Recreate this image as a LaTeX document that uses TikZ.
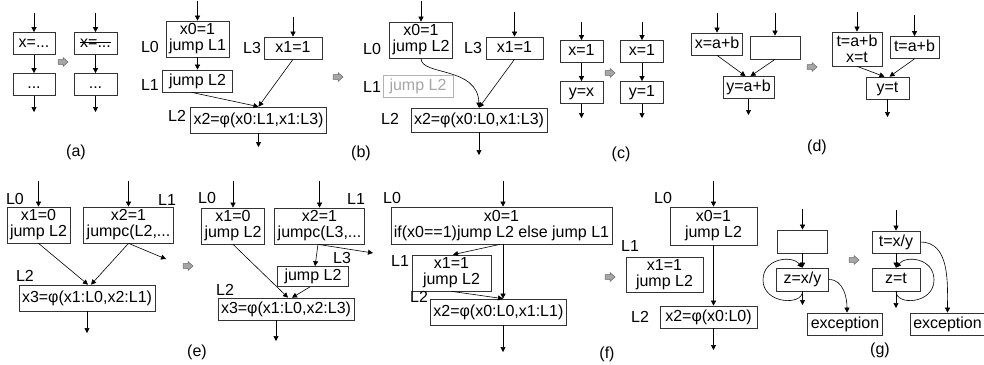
\documentclass[tikz,border=0pt]{standalone}
\usepackage{fontspec}
\setmainfont{Liberation Sans}
\usetikzlibrary{arrows.meta}
\newcommand\mysize{\fontsize{16pt}{16pt}\selectfont}
\newcommand\mystrike[1]{\setbox0\hbox{#1}\rlap{\rule[4.5pt]{\wd0}{0.7pt}}\box0}
\tikzset{
  box/.style={draw=black!80, line width=0.7pt, inner xsep=3pt, inner ysep=0pt, minimum height=22pt, text height=11.5pt, text depth=3.5pt},
  box2/.style={draw=black!80, line width=0.7pt, inner xsep=3pt, inner ysep=0pt, minimum height=36pt, align=center},
  lbl/.style={inner sep=0pt},
  conn/.style={line width=0.6pt, -{Triangle[length=5pt,width=5pt]}},
  pics/blockarrow/.style={code={
    \draw[line width=0.5pt, draw=black!60, fill=black!35] (0,-2.3) -- (5,-2.3) -- (5,-4.5) -- (10,0) -- (5,4.5) -- (5,2.3) -- (0,2.3) -- cycle;}}
}
\begin{document}
\begin{tikzpicture}[x=1pt,y=-1pt,font=\mysize]
\useasboundingbox (0,0) rectangle (984,364);

% ---------- (a)
\node[box, minimum width=42pt] (a1) at (34,43.5) {x=...};
\node[box, minimum width=42pt] (a2) at (34,84.5) {...};
\node[box, minimum width=43pt] (a3) at (95.5,43.5) {\mystrike{x=...}};
\node[box, minimum width=43pt] (a4) at (95.5,84.5) {...};
\coordinate (a1in) at (34,13);
\coordinate (a2out) at (34,112);
\coordinate (a3in) at (95.5,13);
\coordinate (a4out) at (95.5,112);
\draw[conn] (a1in) -- (a1);
\draw[conn] (a1) -- (a2);
\draw[conn] (a2) -- (a2out);
\draw[conn] (a3in) -- (a3);
\draw[conn] (a3) -- (a4);
\draw[conn] (a4) -- (a4out);
\pic at (58,62) {blockarrow};
\node[lbl] (la) at (76,152) {(a)};

% ---------- (b) left
\node[box2] (b1) at (197.5,39) {x0=1\\jump L1};
\node[box, minimum width=70pt] (b2) at (197.5,81) {jump L2};
\node[box, minimum width=58pt] (b3) at (293,48) {x1=1};
\node[box, minimum height=26pt] (b4) at (258.5,120) {x2=φ(x0:L1,x1:L3)};
\node[lbl] (bL0) at (150,47) {L0};
\node[lbl] (bL1) at (150,85) {L1};
\node[lbl] (bL3) at (252,48) {L3};
\node[lbl] (bL2) at (177,116) {L2};
\coordinate (b1in) at (197.5,1);
\coordinate (b3in) at (293,17);
\coordinate (b4out) at (258.5,147);
\draw[conn] (b1in) -- (b1);
\draw[conn] (b1) -- (b2);
\draw[conn] (b3in) -- (b3);
\draw[conn] ([xshift=-6pt]b2.south) -- (b4.north);
\draw[conn] (b3.south) -- (b4.north);
\draw[conn] (b4) -- (b4out);
\pic at (333,77) {blockarrow};
\node[lbl] (lb) at (361,153) {(b)};

% ---------- (b) right
\node[box2] (c1) at (421,40) {x0=1\\jump L2};
\node[box, draw=black!30, text=black!35, minimum width=70pt] (c2) at (418,86) {jump L2};
\node[box, minimum width=57pt] (c3) at (514.5,48) {x1=1};
\node[box, minimum height=24pt] (c4) at (479,120) {x2=φ(x0:L0,x1:L3)};
\node[lbl] (cL0) at (372,49) {L0};
\node[lbl] (cL1) at (372,87) {L1};
\node[lbl] (cL3) at (473,48) {L3};
\node[lbl] (cL2) at (390,119) {L2};
\coordinate (c1in) at (421,1);
\coordinate (c3in) at (514.5,12);
\coordinate (c4out) at (479,155);
\draw[conn] (c1in) -- (c1);
\draw[conn] (c3in) -- (c3);
\draw[conn] (c1.south) .. controls (421,76) and (478,66) .. (c4.north);
\draw[conn] (c3.south) -- (c4.north);
\draw[conn] (c4) -- (c4out);

% ---------- (c)
\node[box, minimum width=43pt] (d1) at (581.5,51.5) {x=1};
\node[box, minimum width=43pt] (d2) at (581.5,92.5) {y=x};
\node[box, minimum width=43pt] (d3) at (642,51.5) {x=1};
\node[box, minimum width=43pt] (d4) at (642,92.5) {y=1};
\coordinate (d1in) at (581.5,22);
\coordinate (d2out) at (581.5,118);
\coordinate (d3in) at (642,22);
\coordinate (d4out) at (642,118);
\draw[conn] (d1in) -- (d1);
\draw[conn] (d1) -- (d2);
\draw[conn] (d2) -- (d2out);
\draw[conn] (d3in) -- (d3);
\draw[conn] (d3) -- (d4);
\draw[conn] (d4) -- (d4out);
\pic at (605,73) {blockarrow};
\node[lbl] (lc) at (621,154) {(c)};

% ---------- (d)
\node[box, minimum width=50pt] (e1) at (717,44) {x=a+b};
\node[box, minimum width=50pt, minimum height=23pt] (e2) at (775,47.5) {};
\node[box, minimum width=51pt] (e3) at (748.5,87.5) {y=a+b};
\coordinate (e1in) at (717,13);
\coordinate (e2in) at (775,13);
\coordinate (e3out) at (748.5,115);
\draw[conn] (e1in) -- (e1);
\draw[conn] (e2in) -- (e2);
\draw[conn] (e1.south) -- ([xshift=-3pt]e3.north);
\draw[conn] (e2.south) -- ([xshift=2pt]e3.north);
\draw[conn] (e3) -- (e3out);
\pic at (807,67) {blockarrow};
\node[lbl] (ld) at (817,147) {(d)};
\node[box2, minimum height=34pt, minimum width=50pt] (f1) at (857,49) {t=a+b\\x=t};
\node[box, minimum width=49pt] (f2) at (914.5,47.5) {t=a+b};
\node[box, minimum width=43pt] (f3) at (887.5,88) {y=t};
\coordinate (f1in) at (857,12);
\coordinate (f2in) at (914.5,15);
\coordinate (f3out) at (887.5,117);
\draw[conn] (f1in) -- (f1);
\draw[conn] (f2in) -- (f2);
\draw[conn] (f1.south) -- ([xshift=-3pt]f3.north);
\draw[conn] (f2.south) -- ([xshift=2pt]f3.north);
\draw[conn] (f3) -- (f3out);

% ---------- (e) left
\node[box2] (g1) at (38.5,225) {x1=0\\jump L2};
\node[box2] (g2) at (128.5,225) {x2=1\\jumpc(L2,...};
\node[box, minimum height=26pt] (g3) at (87,298) {x3=φ(x1:L0,x2:L1)};
\node[lbl] (gL0) at (15,199) {L0};
\node[lbl] (gL1) at (167,200) {L1};
\node[lbl] (gL2) at (25,276) {L2};
\coordinate (g1in) at (38.5,181);
\coordinate (g2in) at (128.5,181);
\coordinate (g2side) at (166,259);
\coordinate (g3out) at (87,333);
\draw[conn] (g1in) -- (g1);
\draw[conn] (g2in) -- (g2);
\draw[conn] (g1.south) -- ([xshift=1pt]g3.north);
\draw[conn] (g2.south) -- ([xshift=4pt]g3.north);
\draw[conn] (g2.south) -- (g2side);
\draw[conn] (g3) -- (g3out);
\pic at (183,266) {blockarrow};
\node[lbl] (le) at (197,352) {(e)};

% ---------- (e) right
\node[box2] (h1) at (233,226) {x1=0\\jump L2};
\node[box2] (h2) at (319.5,226) {x2=1\\jumpc(L3,...};
\node[box, minimum width=71pt, minimum height=20pt] (h3) at (313,276.5) {jump L2};
\node[box] (h4) at (286,309) {x3=φ(x1:L0,x2:L3)};
\node[lbl] (hL0) at (207,198) {L0};
\node[lbl] (hL1) at (356,199) {L1};
\node[lbl] (hL3) at (342,258) {L3};
\node[lbl] (hL2) at (225,290) {L2};
\coordinate (h1in) at (233,181);
\coordinate (h2in) at (319.5,181);
\coordinate (h2side) at (373,253);
\coordinate (h4out) at (276,341);
\draw[conn] (h1in) -- (h1);
\draw[conn] (h2in) -- (h2);
\draw[conn] (h1.south) -- ([xshift=2pt]h4.north);
\draw[conn] ([xshift=-1.5pt]h2.south) -- ([xshift=2pt]h3.north);
\draw[conn] ([xshift=-1.5pt]h2.south) -- (h2side);
\draw[conn] ([xshift=-3pt]h3.south) -- ([xshift=6pt]h4.north);
\draw[conn] (h4.south -| h4out) -- (h4out);

% ---------- (f)
\node[box2, minimum height=37pt] (i1) at (501.5,225.5) {x0=1\\if(x0==1)jump L2 else jump L1};
\node[box2, minimum width=79pt, minimum height=36pt] (i2) at (451.5,273) {x1=1\\jump L2};
\node[box, anchor=west, minimum height=26pt] (i3) at (430,312) {x2=φ(x0:L0,x1:L1)};
\node[lbl] (iL0) at (392,198) {L0};
\node[lbl] (iL1) at (400,261) {L1};
\node[lbl] (iL2) at (419,297) {L2};
\coordinate (i1in) at (503,181);
\coordinate (i1s) at ([xshift=1.5pt]i1.south);
\coordinate (i3t) at (i1s |- i3.north);
\coordinate (i3b) at (i1s |- i3.south);
\coordinate (i3out) at (503,352);
\draw[conn] (i1in) -- (i1in |- i1.north);
\draw[conn] ([xshift=-1.5pt]i1.south) -- ([xshift=1.5pt]i2.north);
\draw[conn] (i1s) -- (i3t);
\draw[conn] (i2.south) -- (i3t);
\draw[conn] (i3b) -- (i3out);
\pic at (605,277) {blockarrow};
\node[lbl] (lf) at (607,354) {(f)};

\node[box2, minimum width=87pt, minimum height=38pt] (j1) at (713.5,226) {x0=1\\jump L2};
\node[box2, minimum width=77pt, minimum height=35pt] (j2) at (664.5,274.5) {x1=1\\jump L2};
\node[box, minimum width=97pt] (j3) at (708.5,317) {x2=φ(x0:L0)};
\node[lbl] (jL0) at (663,198) {L0};
\node[lbl] (jL1) at (630,246) {L1};
\node[lbl] (jL2) at (640,317) {L2};
\coordinate (j1in) at (713.5,181);
\coordinate (j3out) at (713.5,350);
\draw[conn] (j1in) -- (j1);
\draw[conn] (j1.south) -- (j1.south |- j3.north);
\draw[conn] (j1.south |- j3.south) -- (j3out);

% ---------- (g)
\node[box, minimum width=50pt, minimum height=23pt] (k1) at (802.5,241.5) {};
\node[box, minimum width=52pt, minimum height=23pt] (k2) at (802.5,279.5) {z=x/y};
\node[box, minimum width=70pt] (k3) at (845,324) {exception};
\coordinate (k1in) at (802.5,209);
\coordinate (k2out) at (802.5,305);
\draw[conn] (k1in) -- (k1);
\draw[conn] (k1) -- (k2);
\draw[conn] (k2.south) .. controls (802.5,306) and (763,304) .. (763,280) .. controls (763,258) and (792,255) .. (k2.north);
\draw[conn] (k2) -- (k2out);
\draw[conn] (k2.east) to[out=0,in=90] ([xshift=2pt]k3.north);
\pic at (849,260) {blockarrow};
\node[lbl] (lg) at (880,350) {(g)};

\node[box, minimum width=48pt] (m1) at (896,242) {t=x/y};
\node[box, minimum width=48pt, minimum height=23pt] (m2) at (896,279.5) {z=t};
\node[box, minimum width=71pt] (m3) at (947.5,324) {exception};
\coordinate (m1in) at (896,210);
\coordinate (m2out) at (896,308);
\draw[conn] (m1in) -- (m1);
\draw[conn] (m1) -- (m2);
\draw[conn] (m2.south) .. controls (896,306) and (934,304) .. (934,280) .. controls (934,258) and (906,255) .. (m2.north);
\draw[conn] (m2) -- (m2out);
\draw[conn] (m1.east) to[out=0,in=90] (m3.north);
\end{tikzpicture}
\end{document}
